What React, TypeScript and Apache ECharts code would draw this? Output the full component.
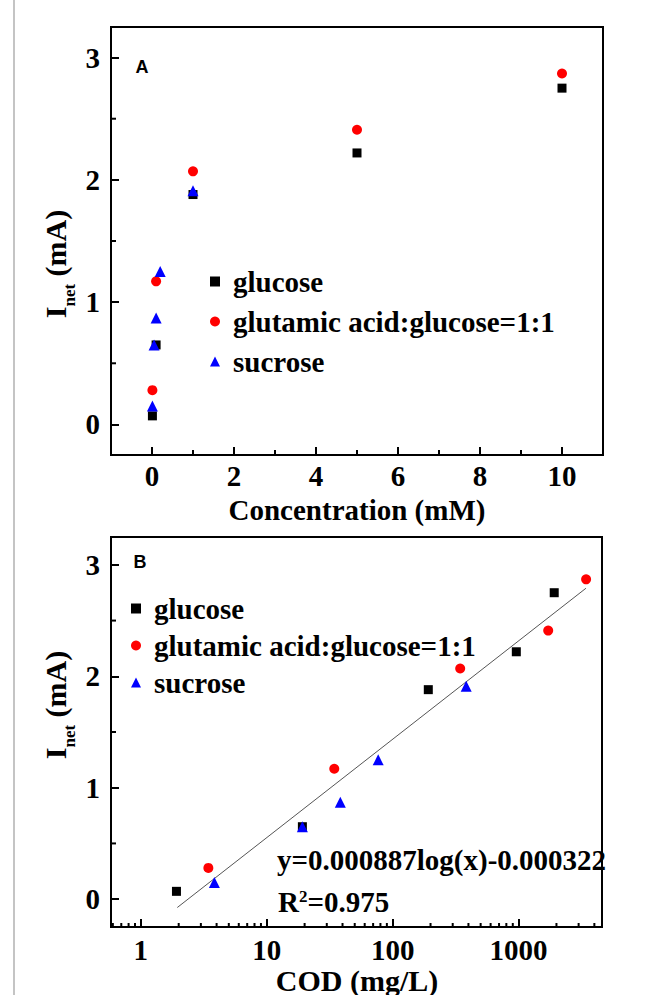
import React, { useEffect, useRef } from 'react';
import * as echarts from 'echarts';

// ---------- data ----------
const seriesNames = ['glucose', 'glutamic acid:glucose=1:1', 'sucrose'];

// Panel A: concentration (mM) vs I_net (mA)
const concGlucose = [0.01, 0.1, 1, 5, 10];
const concMix = [0.01, 0.1, 1, 5, 10];
const concSucrose = [0.01, 0.05, 0.1, 0.2, 1];
const iGlucose = [0.07, 0.65, 1.88, 2.22, 2.75];
const iMix = [0.28, 1.17, 2.07, 2.41, 2.87];
const iSucrose = [0.15, 0.65, 0.87, 1.25, 1.91];

// Panel B: COD (mg/L) vs I_net (mA)
const codGlucose = [1.92, 19.2, 192, 960, 1920];
const codMix = [3.44, 34.4, 344, 1720, 3440];
const codSucrose = [3.84, 19.2, 38.4, 76.8, 384];

// fitted line end points
const fitX = [1.95, 3430];
const fitY = [-0.075, 2.79];

// axis ranges / minor tick values
const concMin = -1;
const concMax = 11;
const codMin = 0.58;
const codMax = 4600;
const iMin = -0.25;
const iMax = 3.25;
const concMinorTicks = [1, 3, 5, 7, 9];
const iMinorTicks = [0.5, 1.5, 2.5];
const codMinorTicks = [
  0.6, 0.7, 0.8, 0.9,
  2, 3, 4, 5, 6, 7, 8, 9,
  20, 30, 40, 50, 60, 70, 80, 90,
  200, 300, 400, 500, 600, 700, 800, 900,
  2000, 3000, 4000,
];

const equationText = 'y=0.000887log(x)-0.000322';
const r2Text = '{a|R}{s|2}{a|=0.975}';

const SERIF = 'Liberation Serif';
const SANS = 'Liberation Sans';

const zip = (xs: number[], ys: number[]) => xs.map((x, i) => [x, ys[i]]);

function axisCommon(extra: any) {
  return {
    axisLine: { show: true, onZero: false, lineStyle: { color: '#000', width: 2 } },
    axisTick: { show: true, inside: true, length: 8, lineStyle: { color: '#000', width: 2 } },
    splitLine: { show: false },
    minorTick: { show: false },
    ...extra,
  };
}

function labelStyle(margin: number, extra: any = {}) {
  return {
    fontFamily: SERIF,
    fontWeight: 'bold',
    fontSize: 29,
    lineHeight: 24,
    color: '#000',
    margin,
    showMinLabel: false,
    showMaxLabel: false,
    ...extra,
  };
}

function minorTickSeries(gridIdx: number, data: number[][], dir: 'x' | 'y', len: number) {
  return {
    type: 'custom',
    xAxisIndex: gridIdx,
    yAxisIndex: gridIdx,
    silent: true,
    z: 5,
    encode: { x: 0, y: 1 },
    data,
    renderItem: (_params: any, api: any) => {
      const p = api.coord([api.value(0), api.value(1)]);
      const shape =
        dir === 'x'
          ? { x1: p[0], y1: p[1], x2: p[0], y2: p[1] - len }
          : { x1: p[0], y1: p[1], x2: p[0] + len, y2: p[1] };
      return { type: 'line', shape, style: { stroke: '#000', lineWidth: 2 } };
    },
  };
}

function scatter(name: string, gridIdx: number, data: number[][], symbol: string, size: any, color: string) {
  return {
    name,
    type: 'scatter',
    xAxisIndex: gridIdx,
    yAxisIndex: gridIdx,
    data,
    symbol,
    symbolSize: size,
    itemStyle: { color, opacity: 1 },
    z: 3,
  };
}

const legendText = { fontFamily: SERIF, fontWeight: 'bold', fontSize: 29, color: '#000', padding: [0, 0, 0, 8] };

const yTitleRich = {
  a: { fontFamily: SERIF, fontWeight: 'bold', fontSize: 30, fill: '#000', color: '#000' },
  b: { fontFamily: SERIF, fontWeight: 'bold', fontSize: 17, fill: '#000', color: '#000', padding: [29, 0, 0, 0] },
};

export default function App() {
  const ref = useRef<HTMLDivElement>(null);

  useEffect(() => {
    if (!ref.current) return;
    const chart = echarts.init(ref.current, undefined, { renderer: 'svg' });

    const option: any = {
      animation: false,
      backgroundColor: '#fff',
      grid: [
        { left: 111, top: 27, width: 492, height: 428, show: true, borderColor: '#000', borderWidth: 2, backgroundColor: 'transparent' },
        { left: 111, top: 537, width: 491, height: 390, show: true, borderColor: '#000', borderWidth: 2, backgroundColor: 'transparent' },
      ],
      xAxis: [
        axisCommon({
          gridIndex: 0,
          type: 'value',
          min: concMin,
          max: concMax,
          splitNumber: 6,
          axisLabel: labelStyle(9),
        }),
        axisCommon({
          gridIndex: 1,
          type: 'log',
          logBase: 10,
          min: codMin,
          max: codMax,
          axisLabel: labelStyle(11, { formatter: (v: number) => String(Math.round(v)) }),
        }),
      ],
      yAxis: [
        axisCommon({
          gridIndex: 0,
          type: 'value',
          min: iMin,
          max: iMax,
          splitNumber: 4,
          axisLabel: labelStyle(11),
        }),
        axisCommon({
          gridIndex: 1,
          type: 'value',
          min: iMin,
          max: iMax,
          splitNumber: 4,
          axisLabel: labelStyle(11),
        }),
      ],
      legend: [
        {
          data: seriesNames,
          orient: 'vertical',
          left: 210,
          top: 267,
          padding: 0,
          itemWidth: 10,
          itemHeight: 10,
          itemGap: 11,
          textStyle: legendText,
          selectedMode: false,
        },
        {
          data: seriesNames,
          orient: 'vertical',
          left: 131,
          top: 594,
          padding: 0,
          itemWidth: 10,
          itemHeight: 10,
          itemGap: 8,
          textStyle: legendText,
          selectedMode: false,
        },
      ],
      series: [
        scatter(seriesNames[0], 0, zip(concGlucose, iGlucose), 'rect', 9, '#000000'),
        scatter(seriesNames[1], 0, zip(concMix, iMix), 'circle', 10, '#ff0000'),
        scatter(seriesNames[2], 0, zip(concSucrose, iSucrose), 'triangle', 11, '#0000ff'),
        scatter(seriesNames[0], 1, zip(codGlucose, iGlucose), 'rect', 9, '#000000'),
        scatter(seriesNames[1], 1, zip(codMix, iMix), 'circle', 10, '#ff0000'),
        scatter(seriesNames[2], 1, zip(codSucrose, iSucrose), 'triangle', 11, '#0000ff'),
        {
          name: 'fit',
          type: 'line',
          xAxisIndex: 1,
          yAxisIndex: 1,
          data: zip(fitX, fitY),
          symbol: 'none',
          silent: true,
          lineStyle: { color: '#555', width: 1 },
          z: 2,
        },
        minorTickSeries(0, concMinorTicks.map((v) => [v, iMin]), 'x', 5),
        minorTickSeries(0, iMinorTicks.map((v) => [concMin, v]), 'y', 5),
        minorTickSeries(1, codMinorTicks.map((v) => [v, iMin]), 'x', 4),
        minorTickSeries(1, iMinorTicks.map((v) => [codMin, v]), 'y', 5),
      ],
      graphic: [
        { type: 'line', shape: { x1: 14, y1: 0, x2: 14, y2: 995 }, style: { stroke: '#b0b0b0', lineWidth: 1.5 }, silent: true },
        { type: 'text', x: 142, y: 67, style: { text: 'A', fontFamily: SANS, fontWeight: 'bold', fontSize: 18, fill: '#000', align: 'center', verticalAlign: 'middle' } },
        { type: 'text', x: 140, y: 562, style: { text: 'B', fontFamily: SANS, fontWeight: 'bold', fontSize: 18, fill: '#000', align: 'center', verticalAlign: 'middle' } },
        {
          type: 'text', x: 55, y: 264, rotation: Math.PI / 2,
          style: { text: '{a|I}{b|net}{a| (mA)}', rich: yTitleRich, align: 'center', verticalAlign: 'middle' },
        },
        {
          type: 'text', x: 55, y: 705, rotation: Math.PI / 2,
          style: { text: '{a|I}{b|net}{a| (mA)}', rich: yTitleRich, align: 'center', verticalAlign: 'middle' },
        },
        { type: 'text', x: 357, y: 510, style: { text: 'Concentration (mM)', fontFamily: SERIF, fontWeight: 'bold', fontSize: 29, lineHeight: 26, fill: '#000', align: 'center', verticalAlign: 'middle' } },
        { type: 'text', x: 357, y: 980, style: { text: 'COD (mg/L)', fontFamily: SERIF, fontWeight: 'bold', fontSize: 30, lineHeight: 26, fill: '#000', align: 'center', verticalAlign: 'middle' } },
        { type: 'text', x: 277, y: 860, style: { text: equationText, fontFamily: SERIF, fontWeight: 'bold', fontSize: 29, fill: '#000', align: 'left', verticalAlign: 'middle' } },
        {
          type: 'text', x: 278, y: 902,
          style: {
            text: r2Text, align: 'left', verticalAlign: 'middle',
            rich: {
              a: { fontFamily: SERIF, fontWeight: 'bold', fontSize: 29, fill: '#000', color: '#000' },
              s: { fontFamily: SERIF, fontWeight: 'bold', fontSize: 17, fill: '#000', color: '#000', verticalAlign: 'top' },
            },
          },
        },
      ],
    };

    chart.setOption(option);
    return () => chart.dispose();
  }, []);

  return (
    <div
      ref={ref}
      style={{ position: 'absolute', left: 0, top: 0, width: 670, height: 995, background: '#fff' }}
    />
  );
}
